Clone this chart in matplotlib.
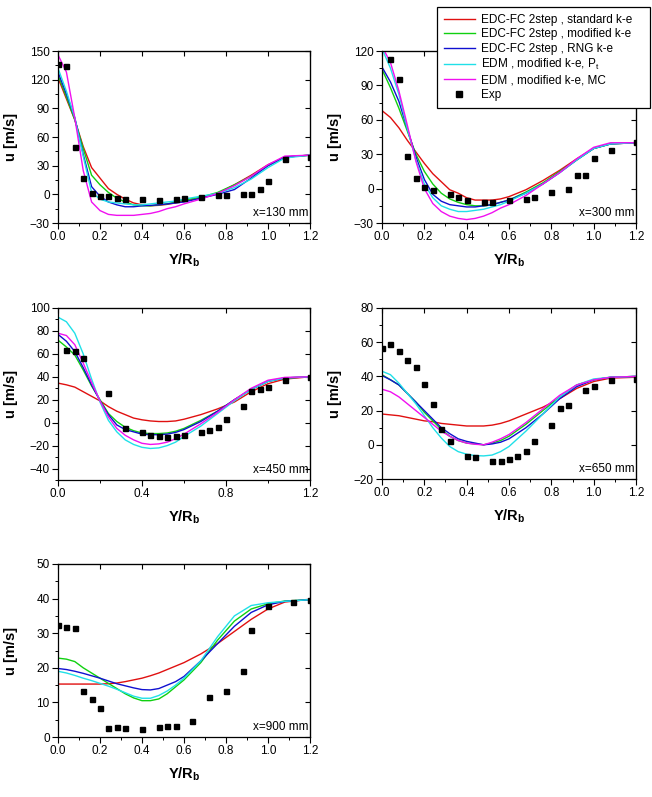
import matplotlib
matplotlib.use("Agg")
import matplotlib.pyplot as plt
from matplotlib.ticker import MultipleLocator, AutoMinorLocator

plt.rcParams['font.family'] = ['Liberation Sans', 'DejaVu Sans']
plt.rcParams['mathtext.fontset'] = 'custom'
plt.rcParams['mathtext.rm'] = 'Liberation Sans'
plt.rcParams['mathtext.it'] = 'Liberation Sans'
plt.rcParams['mathtext.bf'] = 'Liberation Sans:bold'

# ---------------- data ----------------
series_names = ["EDC-FC 2step , standard k-e",
                "EDC-FC 2step , modified k-e",
                "EDC-FC 2step , RNG k-e",
                "EDM , modified k-e, P$_\\mathrm{t}$",
                "EDM , modified k-e, MC"]
series_colors = ["#e01010", "#10d010", "#1010d0", "#20e0e8", "#f010f0"]

y_model = [0, 0.04, 0.08, 0.12, 0.16, 0.2, 0.24, 0.28, 0.32, 0.36, 0.4, 0.44,
           0.48, 0.52, 0.56, 0.6, 0.68, 0.76, 0.84, 0.92, 1.0, 1.08, 1.2]

# x = 130 mm
p130_std = [122, 100, 78, 50, 28, 17, 6, 0, -5, -9, -11, -12, -11.5, -10.5, -9, -7, -4, 1, 10, 20, 31, 39, 41]
p130_mod = [125, 102, 78, 48, 20, 10, 2, -4, -8, -11, -12, -12, -11, -10, -8, -6, -3, 2, 10, 19, 30, 39, 41]
p130_rng = [128, 105, 80, 42, 8, -2, -8, -11, -13, -13, -12, -11.5, -11, -10, -9, -8, -4, 0, 5, 17, 30, 39, 41]
p130_pt = [132, 108, 80, 40, 2, -5, -8, -9, -10, -11, -11, -10, -9, -8, -7, -5, -2, 1, 7, 16, 28, 38, 41]
p130_mc = [146, 128, 80, 25, -8, -17, -21, -22, -22, -22, -21, -20, -18, -15, -13, -10, -5, 1, 9, 19, 31, 40, 41]
exp130_y = [0, 0.04, 0.08, 0.12, 0.16, 0.2, 0.24, 0.28, 0.32, 0.4, 0.48, 0.56, 0.6, 0.68, 0.76, 0.8, 0.88, 0.92, 0.96, 1.0, 1.08, 1.2]
exp130_u = [136, 134, 49.5, 17.5, 1.4, -1.7, -1.7, -3.8, -4.5, -5, -5.5, -4.5, -3.8, -2.4, -1, -1, 0.4, 0.7, 5.2, 14.3, 37.3, 38.7]

# x = 300 mm
p300_std = [68, 62, 53, 42, 32, 22, 13, 6, -1, -4, -8, -10, -10, -10, -9, -7, -1, 7, 16, 26, 35, 39, 40]
p300_mod = [104, 88, 70, 50, 30, 15, 4, -4, -9, -12, -14, -15, -15, -14, -12, -10, -3, 5, 15, 25, 35, 39, 40]
p300_rng = [106, 93, 76, 52, 28, 8, -5, -11, -14, -15, -16, -16, -15, -14, -12, -10, -4, 4, 14, 25, 35, 39, 40]
p300_pt = [122, 105, 82, 52, 25, 4, -8, -15, -18, -20, -20, -19, -18, -16, -14, -11, -4, 4, 14, 25, 35, 39, 40]
p300_mc = [124, 110, 85, 55, 24, 0, -13, -20, -24, -26, -27, -26, -24, -21, -17, -14, -6, 4, 14, 26, 36, 40, 40]
exp300_y = [0.04, 0.08, 0.12, 0.16, 0.2, 0.24, 0.32, 0.36, 0.4, 0.48, 0.52, 0.6, 0.68, 0.72, 0.8, 0.88, 0.92, 0.96, 1.0, 1.08, 1.2]
exp300_u = [113.3, 96, 28.5, 9.6, 1.4, -1.5, -5, -7, -10, -11.4, -11.4, -10, -8.7, -7.3, -2.9, 0, 11.6, 12.2, 26.8, 33.5, 40.8]

# x = 450 mm
p450_std = [34.5, 33, 31, 27, 23, 19, 14, 10, 7, 4, 2.5, 1.5, 1, 1, 1.5, 3, 7, 12, 18, 27, 34, 38, 40]
p450_mod = [72, 66, 59, 46, 32, 20, 8, 1, -4, -7, -9, -9.5, -9.5, -9, -7.5, -5, 2, 10, 20, 29, 36, 39, 40]
p450_rng = [77, 71, 62, 48, 33, 19, 7, -2, -6, -8, -10, -10.5, -10.5, -10, -8.5, -6, 1, 10, 20, 29, 36, 39, 40]
p450_pt = [92, 88, 78, 60, 38, 18, 2, -8, -15, -19, -21.5, -22.5, -22, -20, -17, -12, -3, 8, 19, 29, 36, 39, 40]
p450_mc = [78, 76, 68, 52, 35, 19, 5, -5, -11, -15, -18, -19, -18.5, -17, -14, -10, -1, 9, 20, 30, 37, 39.5, 40]
exp450_y = [0.04, 0.08, 0.12, 0.24, 0.32, 0.4, 0.44, 0.48, 0.52, 0.56, 0.6, 0.68, 0.72, 0.76, 0.8, 0.88, 0.92, 0.96, 1.0, 1.08, 1.2]
exp450_u = [63.3, 62.7, 56.6, 25.7, -4.6, -8.4, -10.4, -11.6, -12.1, -11.6, -10.7, -8, -6, -3.7, 3, 14.7, 27.8, 29.3, 31, 37, 40]

# x = 650 mm
p650_std = [18, 17.5, 17, 16, 15, 14, 13.5, 12.5, 12, 11.5, 11, 11, 11, 11.5, 12.5, 14, 18, 22, 27, 33, 37, 39, 39.5]
p650_mod = [41, 38, 35, 30, 25, 19, 14, 9, 5, 2.5, 1, 0.5, 0, 1, 2.5, 5, 12, 20, 28, 35, 38, 39.5, 40]
p650_rng = [40.5, 38, 35, 30, 25, 20, 15, 10, 6.5, 3.5, 2, 1, 0, 0.5, 1.5, 3.5, 10, 18, 27, 34, 38, 39.5, 40]
p650_pt = [43, 41, 36, 30, 24, 17, 10, 4, -1, -4, -5.5, -6.3, -6.5, -6, -4, -1, 8, 18, 28, 35, 38.5, 39.5, 40]
p650_mc = [32.5, 31, 28, 24, 20, 16, 12, 8, 5, 2.5, 1, 0.3, 0, 1.5, 3.5, 6, 13, 21, 29, 35, 38, 39.5, 40]
exp650_y = [0.0, 0.04, 0.08, 0.12, 0.16, 0.2, 0.24, 0.28, 0.32, 0.4, 0.44, 0.52, 0.56, 0.6, 0.64, 0.68, 0.72, 0.8, 0.84, 0.88, 0.96, 1.0, 1.08, 1.2]
exp650_u = [56.4, 58.7, 54.6, 49.6, 45.5, 35.6, 23.9, 9.1, 2.3, -6.3, -7, -9.2, -9.4, -8.4, -6.8, -3.9, 2.3, 11.6, 21.5, 23.3, 32.2, 34.2, 38.1, 38.5]

# x = 900 mm
p900_std = [15.3, 15.3, 15.3, 15.3, 15.3, 15.3, 15.4, 15.6, 16, 16.5, 17, 17.7, 18.5, 19.5, 20.5, 21.5, 24, 27, 30.5, 34, 37, 39, 39.8]
p900_mod = [22.8, 22.5, 21.8, 20, 18.5, 17, 15.5, 14, 12.5, 11.3, 10.5, 10.5, 11, 12.5, 14.5, 16.5, 21.5, 28, 33.5, 37, 38.5, 39.3, 39.7]
p900_rng = [19.8, 19.5, 19, 18.4, 17.7, 17, 16.2, 15.4, 14.8, 14.2, 13.7, 13.6, 14, 15, 16, 17.5, 22, 27, 32, 36, 38.2, 39.2, 39.7]
p900_pt = [19, 18.5, 17.8, 17, 16.3, 15.5, 14.7, 13.8, 12.8, 11.8, 11.2, 11.2, 12, 13.3, 15, 17, 22, 29, 35, 38, 38.8, 39.2, 39.7]
exp900_y = [0, 0.04, 0.08, 0.12, 0.16, 0.2, 0.24, 0.28, 0.32, 0.4, 0.48, 0.52, 0.56, 0.64, 0.72, 0.8, 0.88, 0.92, 1.0, 1.12, 1.2]
exp900_u = [32.4, 31.9, 31.6, 13.3, 11.1, 8.3, 2.7, 3, 2.7, 2.3, 2.8, 3.1, 3.1, 4.5, 11.6, 13.2, 19.1, 30.8, 37.9, 38.9, 39.6]

panel_labels = ["x=130 mm", "x=300 mm", "x=450 mm", "x=650 mm", "x=900 mm"]
ylims = [(-30, 150), (-30, 120), (-50, 100), (-20, 80), (0, 50)]
ysteps = [30, 30, 20, 20, 10]
xsteps = [0.2, 0.2, 0.4, 0.2, 0.2]

panels = [
    ([p130_std, p130_mod, p130_rng, p130_pt, p130_mc], exp130_y, exp130_u),
    ([p300_std, p300_mod, p300_rng, p300_pt, p300_mc], exp300_y, exp300_u),
    ([p450_std, p450_mod, p450_rng, p450_pt, p450_mc], exp450_y, exp450_u),
    ([p650_std, p650_mod, p650_rng, p650_pt, p650_mc], exp650_y, exp650_u),
    ([p900_std, p900_mod, p900_rng, p900_pt], exp900_y, exp900_u),
]

# ---------------- layout ----------------
W, H = 652, 797
fig = plt.figure(figsize=(W / 100, H / 100), dpi=100)

boxes = [(58, 51, 310, 223), (382, 51, 636, 223),
         (58, 308, 310, 480), (382, 308, 636, 479),
         (58, 564, 310, 737)]

handles = None
for i, (box, (models, ey, eu)) in enumerate(zip(boxes, panels)):
    l, t, r, b = box
    ax = fig.add_axes([l / W, 1 - b / H, (r - l) / W, (b - t) / H])
    hs = []
    for vals, c, name in zip(models, series_colors, series_names):
        h, = ax.plot(y_model, vals, color=c, lw=1.0, label=name)
        hs.append(h)
    he, = ax.plot(ey, eu, ls='none', marker='s', ms=3.6, color='black', label='Exp', zorder=5)
    if i == 1:
        handles = hs + [he]
    ax.set_xlim(0, 1.2)
    ax.set_ylim(*ylims[i])
    ax.xaxis.set_major_locator(MultipleLocator(xsteps[i]))
    ax.yaxis.set_major_locator(MultipleLocator(ysteps[i]))
    ax.xaxis.set_minor_locator(AutoMinorLocator(2))
    ax.yaxis.set_minor_locator(AutoMinorLocator(2))
    ax.xaxis.set_major_formatter(matplotlib.ticker.FormatStrFormatter('%.1f'))
    ax.tick_params(which='major', direction='out', length=4, width=0.8, labelsize=8.5,
                   top=False, right=False, pad=2)
    ax.tick_params(which='minor', direction='out', length=2.2, width=0.7, top=False, right=False)
    # opposite axes: inward major ticks
    axr = ax.secondary_yaxis('right')
    axr.yaxis.set_major_locator(MultipleLocator(ysteps[i]))
    axr.tick_params(direction='in', length=3.5, width=0.8, labelright=False)
    axt = ax.secondary_xaxis('top')
    axt.xaxis.set_major_locator(MultipleLocator(xsteps[i]))
    axt.tick_params(direction='in', length=3.5, width=0.8, labeltop=False)
    for sp in ax.spines.values():
        sp.set_linewidth(0.9)
    ax.set_ylabel('u [m/s]', fontsize=10.5, fontweight='bold')
    ax.yaxis.set_label_coords(-0.157, 0.5)
    ax.set_xlabel('Y/R$_\\mathbf{b}$', fontsize=10.5, fontweight='bold', labelpad=6)
    ax.text(0.995, 0.06, panel_labels[i], transform=ax.transAxes, ha='right', va='center',
            fontsize=8.5)

leg = fig.legend(handles=handles, labels=series_names + ['Exp'],
                 loc='upper left',
                 bbox_to_anchor=(437 / W, 1 - 106 / H, (650 - 437) / W, (106 - 7) / H),
                 mode='expand', fontsize=8.5, frameon=True, fancybox=False,
                 edgecolor='black', framealpha=1, borderpad=0.6, labelspacing=0.2,
                 handlelength=2.6, handletextpad=0.5, borderaxespad=0, markerscale=1.1)
leg.get_frame().set_linewidth(0.9)

fig.savefig('out.png', dpi=100)
